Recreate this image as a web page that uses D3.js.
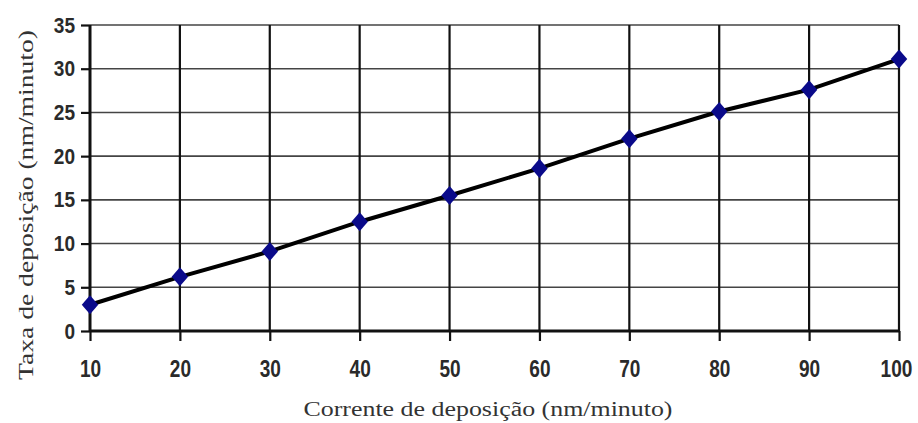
<!DOCTYPE html>
<html><head><meta charset="utf-8">
<script src="https://cdn.jsdelivr.net/npm/d3@7"></script>
<style>body{margin:0;background:#fff}svg{display:block}</style>
</head><body>
<svg id="c" width="918" height="423"></svg>
<script>
const categories = [10, 20, 30, 40, 50, 60, 70, 80, 90, 100];
const values = [3, 6.2, 9.1, 12.5, 15.5, 18.6, 22, 25.1, 27.6, 31.1];
const yTicks = [0, 5, 10, 15, 20, 25, 30, 35];
const xTitle = "Corrente de deposição (nm/minuto)";
const yTitle = "Taxa de deposição (nm/minuto)";

const svg = d3.select("#c");
const x = d3.scaleLinear().domain([10, 100]).range([90, 899]);
const y = d3.scaleLinear().domain([0, 35]).range([331, 25]);

const tickFont = "'Liberation Sans',Arial,sans-serif";

// horizontal gridlines
svg.append("g").selectAll("line").data(yTicks.filter(d => d > 0)).join("line")
  .attr("x1", x(10)).attr("x2", x(100))
  .attr("y1", d => y(d)).attr("y2", d => y(d))
  .attr("stroke", "#444").attr("stroke-width", 1.6);

// vertical gridlines
svg.append("g").selectAll("line").data(categories.filter(d => d > 10)).join("line")
  .attr("x1", d => x(d)).attr("x2", d => x(d))
  .attr("y1", y(35)).attr("y2", y(0))
  .attr("stroke", "#111").attr("stroke-width", 2.2);

function styleTicks(sel, size) {
  sel.selectAll("text")
    .attr("font-family", tickFont).attr("font-weight", "bold")
    .attr("font-size", size).attr("fill", "#2a2a2a")
    .attr("lengthAdjust", "spacingAndGlyphs")
    .attr("textLength", function() { return this.textContent.length * 10.6; });
}

// x axis
const xAxis = svg.append("g").attr("transform", `translate(0,${y(0)})`)
  .call(d3.axisBottom(x).tickValues(categories).tickSize(10).tickPadding(20).tickFormat(d3.format("d")));
xAxis.select(".domain").attr("stroke", "#111").attr("stroke-width", 3).attr("d", `M${x(10)},0H${x(100)}`);
xAxis.selectAll(".tick line").attr("stroke", "#111").attr("stroke-width", 2.2);
styleTicks(xAxis, 23);
xAxis.selectAll(".tick text").filter(d => d === 100).attr("dx", -3);

// y axis
const yAxis = svg.append("g").attr("transform", `translate(${x(10)},0)`)
  .call(d3.axisLeft(y).tickValues(yTicks).tickSize(9).tickPadding(6).tickFormat(d3.format("d")));
yAxis.select(".domain").attr("stroke", "#111").attr("stroke-width", 3).attr("d", `M0,${y(0)}V${y(35)}`);
yAxis.selectAll(".tick line").attr("stroke", "#111").attr("stroke-width", 2.2);
styleTicks(yAxis, 22);

// data line
const pts = categories.map((c, i) => [c, values[i]]);
svg.append("path").datum(pts)
  .attr("fill", "none").attr("stroke", "#000").attr("stroke-width", 4)
  .attr("d", d3.line().x(d => x(d[0])).y(d => y(d[1])));

// markers
svg.append("g").selectAll("path").data(pts).join("path")
  .attr("d", d3.symbol().type(d3.symbolSquare).size(150))
  .attr("transform", d => `translate(${x(d[0])},${y(d[1])}) scale(0.95,1.1) rotate(45)`)
  .attr("fill", "#0a0a8a");

// titles
svg.append("text").attr("x", 488).attr("y", 416).attr("text-anchor", "middle")
  .attr("font-family", "'Liberation Serif','Times New Roman',serif").attr("font-size", 20)
  .attr("fill", "#333").attr("textLength", 369).attr("lengthAdjust", "spacingAndGlyphs").text(xTitle);

svg.append("text").attr("transform", "translate(33,205) rotate(-90)").attr("text-anchor", "middle")
  .attr("font-family", "'Liberation Serif','Times New Roman',serif").attr("font-size", 20)
  .attr("fill", "#333").attr("textLength", 350).attr("lengthAdjust", "spacingAndGlyphs").text(yTitle);
</script>
</body></html>
